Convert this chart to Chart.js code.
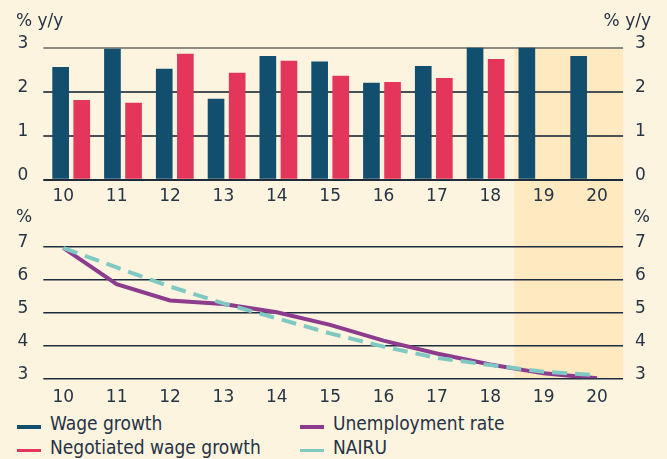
<!DOCTYPE html>
<html>
<head>
<meta charset="utf-8">
<script src="https://cdn.jsdelivr.net/npm/chart.js@4.4.0/dist/chart.umd.min.js"></script>
<style>
  html, body { margin: 0; padding: 0; background: #fdf4e0; }
  body { width: 667px; height: 459px; position: relative; overflow: hidden; color: #253244;
         font-family: "DejaVu Sans Condensed", "DejaVu Sans", sans-serif; }
  #top { position: absolute; left: 0; top: 0; }
  #bottom { position: absolute; left: 0; top: 205px; }
  #legend { position: absolute; left: 17px; top: 412px; display: grid;
            grid-template-columns: 283px auto; grid-template-rows: 23.5px 23.5px; grid-auto-flow: column; }
  .item { position: relative; height: 23.5px; line-height: 23.5px; padding-left: 33px; font-size: 19px; white-space: nowrap; }
  .item span { position: absolute; left: 0; top: 13px; width: 24px; height: 3.5px; }
</style>
</head>
<body>
<canvas id="top" width="667" height="205"></canvas>
<canvas id="bottom" width="667" height="205"></canvas>
<div id="legend"></div>
<script>
// years (both panels)
var years = ['10', '11', '12', '13', '14', '15', '16', '17', '18', '19', '20']
// top panel, % y/y
var wageGrowth = [2.56, 2.97, 2.52, 1.84, 2.81, 2.68, 2.20, 2.58, 3.00, 3.00, 2.81]
var negotiatedWage = [1.81, 1.75, 2.86, 2.43, 2.70, 2.36, 2.22, 2.31, 2.74, null, null]
// bottom panel, %
var unemployment = [6.95, 5.85, 5.36, 5.25, 5.00, 4.62, 4.14, 3.75, 3.42, 3.15, 3.00]
var nairu = [6.95, 6.36, 5.78, 5.27, 4.82, 4.36, 3.96, 3.62, 3.40, 3.20, 3.09]
// y ticks
var topTicks = [0, 1, 2, 3]
var bottomTicks = [3, 4, 5, 6, 7]

var forecastFrom = 18.45   // shaded part starts here
var xMin = 9.663, xMax = 20.339

var ink = '#263445'
Chart.defaults.font.family = '"DejaVu Sans", sans-serif'
Chart.defaults.font.size = 17
Chart.defaults.color = ink

var xValues = years.map(function (y) { return +y })

function setTicks(list) {
  return function (s) { s.ticks = list.map(function (v) { return { value: v } }) }
}

// shaded forecast band
var shade = {
  id: 'shade',
  beforeDraw: function (chart, args, opts) {
    var a = chart.chartArea, c = chart.ctx
    var x0 = chart.scales.xl.getPixelForValue(forecastFrom)
    var top = opts.down ? a.top : 0
    var bot = opts.down ? chart.height : a.bottom
    c.save()
    c.fillStyle = '#ffe9c0'
    c.fillRect(x0, top, a.right + 8 - x0, bot - top)
    c.restore()
  }
}

// unit text above both y axes
var units = {
  id: 'units',
  afterDraw: function (chart, args, opts) {
    var c = chart.ctx
    c.save()
    c.font = '17px "DejaVu Sans"'
    c.fillStyle = ink
    c.textAlign = 'left'
    c.fillText(opts.text, 16, opts.y)
    c.textAlign = 'right'
    c.fillText(opts.text, opts.right, opts.y)
    c.restore()
  }
}

function xAxis(pad, height) {
  return {
    type: 'linear', position: 'bottom', min: xMin, max: xMax, offset: false,
    afterBuildTicks: setTicks(xValues),
    grid: { display: false, drawTicks: false }, border: { display: false },
    ticks: { padding: pad, callback: function (v) { return years[xValues.indexOf(v)] } },
    afterFit: function (s) { s.height = height }
  }
}

function yAxis(list, right, gridColor, lw) {
  return {
    position: right ? 'right' : 'left',
    min: list[0], max: list[list.length - 1],
    afterBuildTicks: setTicks(list),
    grid: { drawOnChartArea: !right, color: gridColor, lineWidth: lw, tickLength: right ? 8 : 2 },
    border: { display: false },
    ticks: { padding: right ? 12 : 15, labelOffset: -4 },
    afterFit: function (s) { s.width = right ? 667 - 615.1 : 45.3 }
  }
}

function topGrid(ctx) {
  var v = ctx.tick && ctx.tick.value
  if (v === 3) return '#8d8b84'
  if (v === 0) return '#1e2b3a'
  return '#474f57'
}

var topChart = new Chart(document.getElementById('top'), {
  type: 'bar',
  data: {
    labels: years,
    datasets: [
      { label: 'Wage growth', data: wageGrowth, backgroundColor: '#124e6d',
        categoryPercentage: 0.815, barPercentage: 0.79 },
      { label: 'Negotiated wage growth', data: negotiatedWage, backgroundColor: '#e3365a',
        categoryPercentage: 0.815, barPercentage: 0.79 }
    ]
  },
  options: {
    responsive: false, animation: false,
    layout: { padding: { top: 47.5 } },
    plugins: {
      legend: { display: false }, tooltip: { enabled: false },
      shade: { down: true },
      units: { text: '% y/y', y: 25.5, right: 651 }
    },
    scales: {
      x: { display: false },
      xl: xAxis(7, 25),
      y: yAxis(topTicks, false, topGrid, 2),
      y2: yAxis(topTicks, true, topGrid, 2)
    }
  },
  plugins: [shade, units]
})

function pts(arr) {
  return arr.map(function (v, i) { return { x: xValues[i], y: v } })
}

var bottomChart = new Chart(document.getElementById('bottom'), {
  type: 'line',
  data: {
    datasets: [
      { label: 'Unemployment rate', data: pts(unemployment), xAxisID: 'xl', borderColor: '#8c3b8d',
        borderWidth: 4, pointRadius: 0, tension: 0, order: 1 },
      { label: 'NAIRU', data: pts(nairu), xAxisID: 'xl', borderColor: '#80c9c3',
        borderWidth: 4, borderDash: [15, 8], pointRadius: 0, tension: 0, order: 0 }
    ]
  },
  options: {
    responsive: false, animation: false,
    layout: { padding: { top: 41.3 } },
    plugins: {
      legend: { display: false }, tooltip: { enabled: false },
      shade: { down: false },
      units: { text: '%', y: 17.3, right: 650 }
    },
    scales: {
      xl: xAxis(9, 31.7),
      y: yAxis(bottomTicks, false, '#1d2c3e', 1.5),
      y2: yAxis(bottomTicks, true, '#1d2c3e', 1.5)
    }
  },
  plugins: [shade, units]
})

// two-column legend from both charts
var legend = document.getElementById('legend')
topChart.data.datasets.concat(bottomChart.data.datasets).forEach(function (d) {
  var item = document.createElement('div')
  item.className = 'item'
  var sw = document.createElement('span')
  sw.style.background = d.borderColor || d.backgroundColor
  item.appendChild(sw)
  item.appendChild(document.createTextNode(d.label))
  legend.appendChild(item)
})
</script>
</body>
</html>
